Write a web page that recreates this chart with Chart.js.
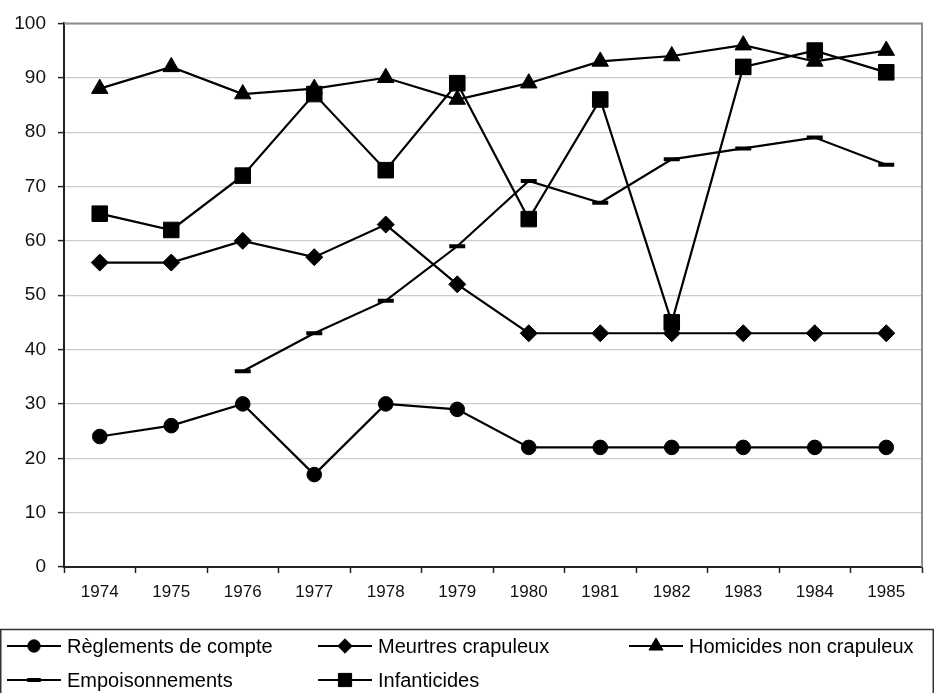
<!DOCTYPE html>
<html>
<head>
<meta charset="utf-8">
<script src="https://cdn.jsdelivr.net/npm/chart.js@4.4.0/dist/chart.umd.min.js"></script>
<style>
  html, body { margin: 0; padding: 0; background: #ffffff; }
  #wrap { width: 934px; height: 693px; position: relative; }
</style>
</head>
<body>
<div id="wrap"><canvas id="chart"></canvas></div>
<script>
// Data
const years = ['1974', '1975', '1976', '1977', '1978', '1979', '1980', '1981', '1982', '1983', '1984', '1985'];
const reglements = [24, 26, 30, 17, 30, 29, 22, 22, 22, 22, 22, 22];
const meurtres = [56, 56, 60, 57, 63, 52, 43, 43, 43, 43, 43, 43];
const homicides = [88, 92, 87, 88, 90, 86, 89, 93, 94, 96, 93, 95];
const empoisonnements = [null, null, 36, 43, 49, 59, 71, 67, 75, 77, 79, 74];
const infanticides = [65, 62, 72, 87, 73, 89, 64, 86, 45, 92, 95, 91];
const seriesNames = ['Règlements de compte', 'Meurtres crapuleux', 'Homicides non crapuleux', 'Empoisonnements', 'Infanticides'];
const yMin = 0, yMax = 100, yStep = 10;

const FONT = "'Liberation Sans', Arial, sans-serif";

function series(label, data, style, radius, extra) {
    return Object.assign({
        label: label,
        data: data,
        borderColor: '#000000',
        backgroundColor: '#000000',
        borderWidth: 2.2,
        pointStyle: style,
        pointRadius: radius,
        pointHoverRadius: radius,
        pointBackgroundColor: '#000000',
        pointBorderColor: '#000000',
        pointBorderWidth: 1,
        tension: 0,
        spanGaps: false
    }, extra || {});
}

// plot frame (grey top/right border like Excel)
const framePlugin = {
    id: 'frame',
    beforeDatasetsDraw(chart) {
        const a = chart.chartArea, ctx = chart.ctx;
        ctx.save();
        ctx.strokeStyle = '#8c8c8c';
        ctx.lineWidth = 2;
        ctx.beginPath();
        ctx.moveTo(a.left, a.top);
        ctx.lineTo(a.right, a.top);
        ctx.lineTo(a.right, a.bottom);
        ctx.stroke();
        ctx.restore();
    }
};

// legend box at the bottom, 3 columns
const legendPlugin = {
    id: 'boxLegend',
    afterDraw(chart) {
        const ctx = chart.ctx;
        const colX = [7, 318, 629];
        const rowY = [646, 680];
        ctx.save();
        ctx.strokeStyle = '#333333';
        ctx.lineWidth = 1.5;
        ctx.strokeRect(0.75, 629.5, 932.5, 80);
        ctx.font = '20px ' + FONT;
        ctx.textBaseline = 'middle';
        ctx.textAlign = 'left';
        chart.data.datasets.forEach(function(ds, i) {
            const x = colX[i % 3], y = rowY[Math.floor(i / 3)];
            ctx.strokeStyle = '#000000';
            ctx.fillStyle = '#000000';
            ctx.lineWidth = 2.2;
            ctx.beginPath();
            ctx.moveTo(x, y);
            ctx.lineTo(x + 54, y);
            ctx.stroke();
            ctx.lineWidth = ds.pointBorderWidth;
            Chart.helpers.drawPoint(ctx, {
                pointStyle: ds.pointStyle,
                radius: ds.pointRadius * 0.85,
                rotation: 0,
                borderWidth: ds.pointBorderWidth
            }, x + 27, y);
            ctx.fillStyle = '#000000';
            ctx.fillText(ds.label, x + 60, y + 1);
        });
        ctx.restore();
    }
};

const ctx = document.getElementById('chart').getContext('2d');
const chart = new Chart(ctx, {
    type: 'line',
    data: {
        labels: years,
        datasets: [
            series(seriesNames[0], reglements, 'circle', 7.3),
            series(seriesNames[1], meurtres, 'rectRot', 8.5),
            series(seriesNames[2], homicides, 'triangle', 9.5),
            series(seriesNames[3], empoisonnements, 'line', 8, { pointBorderWidth: 4 }),
            series(seriesNames[4], infanticides, 'rect', 11)
        ]
    },
    options: {
        responsive: true,
        maintainAspectRatio: false,
        animation: false,
        layout: { padding: { left: 0, top: 17, right: 8, bottom: 86 } },
        plugins: {
            legend: { display: false },
            tooltip: { enabled: false }
        },
        scales: {
            x: {
                offset: true,
                afterFit: function(scale) { scale.height = 40; },
                grid: {
                    offset: true,
                    drawOnChartArea: false,
                    drawTicks: true,
                    tickLength: 6,
                    tickColor: '#222222',
                    tickWidth: 1.5
                },
                border: { color: '#222222', width: 2 },
                ticks: {
                    color: '#111111',
                    font: { family: FONT, size: 17 },
                    padding: 9,
                    maxRotation: 0
                }
            },
            y: {
                min: yMin,
                max: yMax,
                afterFit: function(scale) { scale.width = 64; },
                grid: {
                    color: '#cccccc',
                    lineWidth: 1.2,
                    tickLength: 6,
                    tickColor: '#222222',
                    tickWidth: 1.5
                },
                border: { color: '#222222', width: 2 },
                ticks: {
                    stepSize: yStep,
                    color: '#111111',
                    font: { family: FONT, size: 19 },
                    padding: 12
                }
            }
        }
    },
    plugins: [framePlugin, legendPlugin]
});
</script>
</body>
</html>
